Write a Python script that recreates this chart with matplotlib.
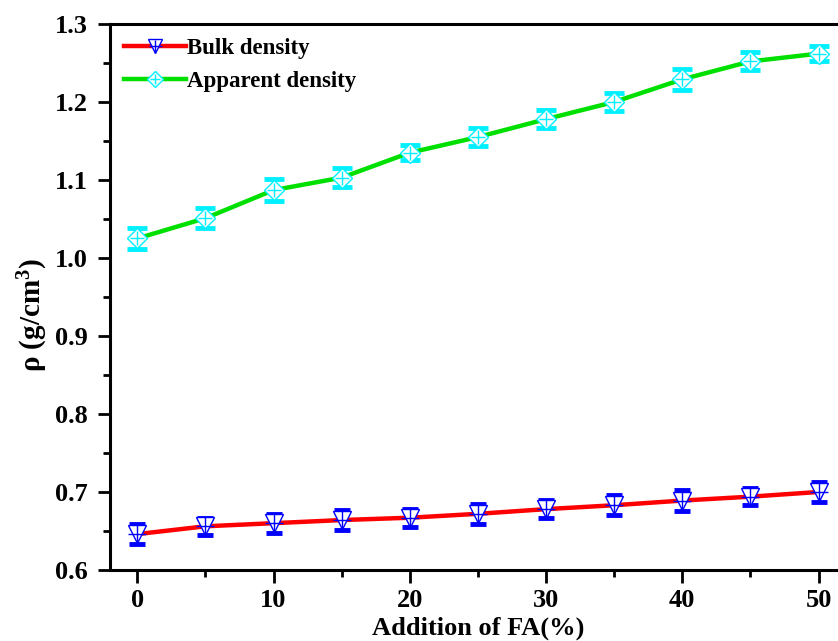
import numpy as np
import matplotlib
matplotlib.use('Agg')
import matplotlib.pyplot as plt
from matplotlib.ticker import MultipleLocator

plt.rcParams['font.family'] = ['Liberation Serif', 'DejaVu Serif']
plt.rcParams['font.weight'] = 'bold'
plt.rcParams['mathtext.fontset'] = 'custom'
plt.rcParams['mathtext.rm'] = 'Liberation Serif:bold'
plt.rcParams['mathtext.bf'] = 'Liberation Serif:bold'
plt.rcParams['mathtext.default'] = 'bf'

fa = [0, 5, 10, 15, 20, 25, 30, 35, 40, 45, 50]
bulk = [0.646, 0.656, 0.660, 0.664, 0.667, 0.672, 0.678, 0.683, 0.689, 0.694, 0.700]
bulk_err = [0.0127, 0.011, 0.012, 0.013, 0.0118, 0.013, 0.012, 0.0125, 0.013, 0.011, 0.0133]
apparent = [1.025, 1.051, 1.087, 1.103, 1.135, 1.155, 1.178, 1.200, 1.229, 1.252, 1.262]
apparent_err = [0.0135, 0.013, 0.014, 0.012, 0.010, 0.0115, 0.012, 0.0115, 0.0135, 0.0115, 0.010]

fig = plt.figure(figsize=(8.38, 6.41), dpi=100)
ax = fig.add_axes([0.1313, 0.1108, 0.878, 0.8518])


def draw_series(x, y, err, lcolor, mcolor, marker, msize, capsize, label):
    ax.plot(x, y, color=lcolor, lw=3.2, zorder=2)
    ax.errorbar(x, y, yerr=err, fmt='none', ecolor=mcolor, elinewidth=1.2,
                capsize=capsize, capthick=3.5, zorder=3)
    ax.plot(x, y, ls='none', marker=marker, ms=msize, mfc='white',
            mec=mcolor, mew=1.0, zorder=4)
    ax.plot(x, y, ls='none', marker='+', ms=msize * 0.95, mec=mcolor,
            mew=1.0, zorder=5)
    h1, = ax.plot([], [], color=lcolor, lw=3.2, marker=marker, ms=msize * 0.75,
                  mfc='white', mec=mcolor, mew=1.0)
    h2, = ax.plot([], [], ls='none', marker='+', ms=msize * 0.72, mec=mcolor, mew=1.0)
    return (h1, h2), label


hb = draw_series(fa, bulk, bulk_err, '#ff0000', '#0000ff', 'v', 13, 5.5, 'Bulk density')
ha = draw_series(fa, apparent, apparent_err, '#00e000', '#00f0ff', 'D', 10.5, 7, 'Apparent density')

ax.legend([hb[0], ha[0]], [hb[1], ha[1]], loc='upper left', frameon=False,
          fontsize=16.5, handlelength=2.7, handletextpad=0.05,
          borderaxespad=0.2, labelspacing=0.55)

ax.set_xlim(-2, 52)
ax.set_ylim(0.6, 1.3)
ax.xaxis.set_major_locator(MultipleLocator(10))
ax.xaxis.set_minor_locator(MultipleLocator(5))
ax.yaxis.set_major_locator(MultipleLocator(0.1))
ax.yaxis.set_minor_locator(MultipleLocator(0.05))
ax.tick_params(which='major', direction='out', length=9, width=2, labelsize=19, pad=7)
ax.tick_params(axis='x', which='major', pad=5)
ax.tick_params(which='minor', direction='out', length=5, width=2)
for s in ax.spines.values():
    s.set_linewidth(2.2)
for lab in ax.get_xticklabels() + ax.get_yticklabels():
    lab.set_fontweight('bold')

ax.set_xlabel('Addition of FA(%)', fontsize=19, fontweight='bold', labelpad=3)
ax.set_ylabel(r'ρ (g/cm$^3$)', fontsize=21, fontweight='bold')
ax.yaxis.set_label_coords(-0.082, 0.467)

fig.savefig('out.png', dpi=100)
